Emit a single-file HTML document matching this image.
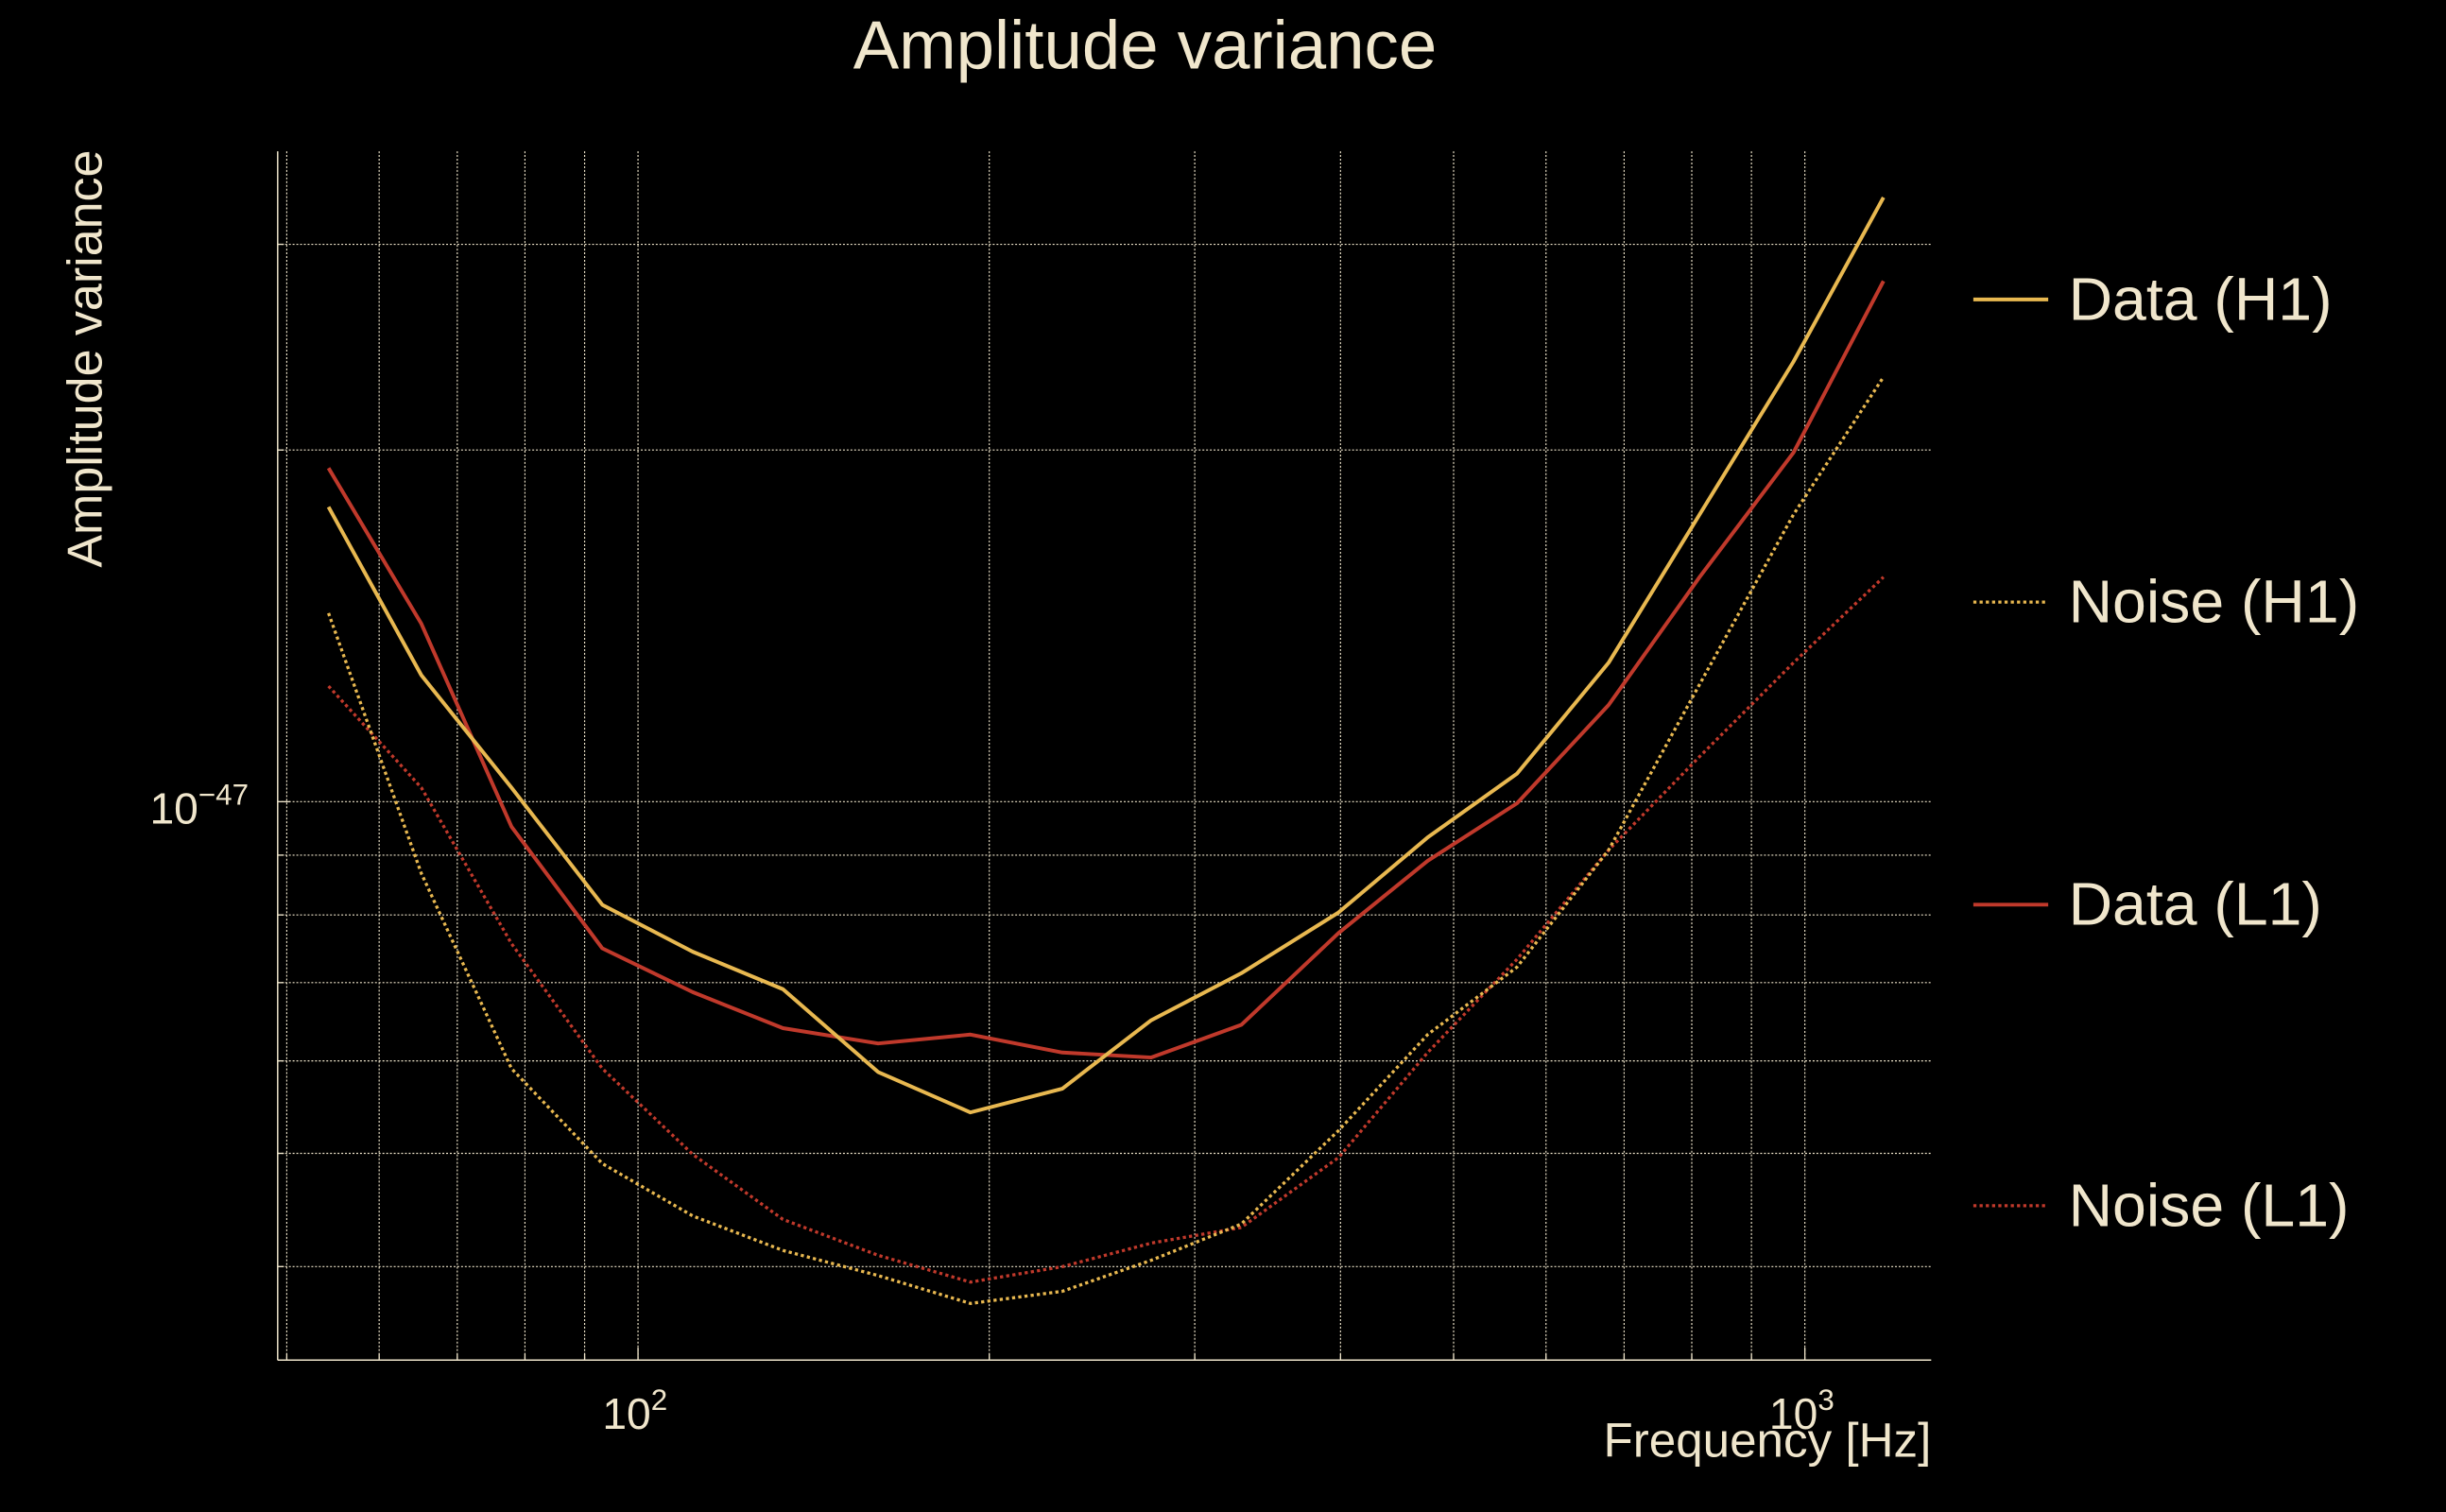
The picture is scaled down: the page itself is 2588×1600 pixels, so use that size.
<!DOCTYPE html>
<html><head><meta charset="utf-8"><style>
html,body{margin:0;padding:0;background:#000;}
svg{display:block;}
text{font-family:"Liberation Sans",sans-serif;fill:#f0e6cc;}
</style></head><body>
<svg id="chart" width="2588" height="1600" viewBox="0 0 1568 969.4" preserveAspectRatio="none" xmlns="http://www.w3.org/2000/svg">
<rect width="1568" height="970" fill="#000"/>
<g id="grid"></g>
<g id="axes"></g>
<g id="series"></g>
<text x="734" y="44" font-size="44" text-anchor="middle">Amplitude variance</text>
<text transform="translate(65,230) rotate(-90)" font-size="31.5" text-anchor="middle">Amplitude variance</text>
<text x="1238" y="934" font-size="31" text-anchor="end">Frequency [Hz]</text>
<g>
<line x1="1265" y1="192" x2="1313" y2="192" stroke="#e8b850" stroke-width="2.4"/>
<text x="1326" y="205" font-size="39">Data (H1)</text>
<line x1="1265" y1="386" x2="1313" y2="386" stroke="#e8b850" stroke-width="2" stroke-dasharray="2,2"/>
<text x="1326" y="399" font-size="39">Noise (H1)</text>
<line x1="1265" y1="580" x2="1313" y2="580" stroke="#c0392b" stroke-width="2.4"/>
<text x="1326" y="593" font-size="39">Data (L1)</text>
<line x1="1265" y1="773" x2="1313" y2="773" stroke="#c0392b" stroke-width="2" stroke-dasharray="2,2"/>
<text x="1326" y="786" font-size="39">Noise (L1)</text>
</g>
</svg>
<script>
const freqs = [54.3,65.2,77.9,93.2,111.4,133.1,160.6,192.7,231.0,275.3,328.8,398.5,475.1,566.7,679.0,812.3,977.7,1168];
// values in units of 1e-48
const dataH1 = [17.88,12.83,10.28,8.16,7.44,6.91,5.87,5.42,5.68,6.50,7.13,8.04,9.32,10.57,13.15,17.61,23.8,32.9];
const dataL1 = [19.3,14.2,9.52,7.49,6.87,6.40,6.21,6.32,6.10,6.04,6.44,7.72,8.90,9.97,12.10,15.57,19.9,27.9];
const noiseH1 = [14.5,8.68,5.91,4.90,4.42,4.13,3.93,3.72,3.81,4.05,4.35,5.23,6.32,7.22,9.09,12.6,17.61,23.1];
const noiseL1 = [12.56,10.28,7.56,5.91,4.99,4.39,4.09,3.88,4.00,4.19,4.32,4.96,6.10,7.33,9.09,10.93,13.15,15.57];
const xGridVals = [50,60,70,80,90,100,200,300,400,500,600,700,800,900,1000];
const yGridVals = [4,5,6,7,8,9,10,20,30];

const NS="http://www.w3.org/2000/svg";
const X0=178,X1=1238,Y0=97,Y1=872;
function xs(f){return 409+748*Math.log10(f/100);}
function ys(v){return 514-749*Math.log10(v/10);}
function mk(tag,attrs,parent){const e=document.createElementNS(NS,tag);for(const k in attrs)e.setAttribute(k,attrs[k]);parent.appendChild(e);return e;}
const grid=document.getElementById('grid'),axes=document.getElementById('axes'),series=document.getElementById('series');
xGridVals.forEach(f=>{const x=xs(f);
  const l=mk('line',{x1:x,x2:x,y1:Y0,y2:Y1,stroke:'#f0e6cc','stroke-width':0.7,'stroke-dasharray':'1.2,1.2'},grid);
  
  
  const t=mk('line',{x1:x,x2:x,y1:Y1,y2:Y1-(f==100||f==1000?8:4),stroke:'#f0e6cc','stroke-width':0.8},axes);
  
  
});
yGridVals.forEach(v=>{const y=ys(v);
  const l=mk('line',{x1:X0,x2:X1,y1:y,y2:y,stroke:'#f0e6cc','stroke-width':0.7,'stroke-dasharray':'1.2,1.2'},grid);
  
  
  const t=mk('line',{x1:X0,x2:X0+(v==10?8:4),y1:y,y2:y,stroke:'#f0e6cc','stroke-width':0.8},axes);
  
  
});
let a=mk('line',{x1:X0,x2:X0,y1:Y0,y2:Y1,stroke:'#f0e6cc','stroke-width':0.9},axes);


a=mk('line',{x1:X0,x2:X1,y1:Y1,y2:Y1,stroke:'#f0e6cc','stroke-width':0.9},axes);


function expLabel(x,y,base,exp,anchor,name){const t=mk('text',{x:x,y:y,'font-size':28,'text-anchor':anchor},axes);
  
  
  t.innerHTML=base+'<tspan dy="-12" font-size="19">'+exp+'</tspan>';}
expLabel(xs(100)-2,916,'10','2','middle','x-tick-label-100');
expLabel(xs(1000)-2,916,'10','3','middle','x-tick-label-1000');
expLabel(96,528,'10','\u221247','start','y-tick-label-1e-47');
function drawSeries(vals,color,dashed,name){
  const pts=freqs.map((f,i)=>xs(f).toFixed(1)+','+ys(vals[i]).toFixed(1)).join(' ');
  const p=mk('polyline',{points:pts,fill:'none',stroke:color,'stroke-width':dashed?2:2.4,'stroke-linejoin':'round'},series);
  if(dashed)p.setAttribute('stroke-dasharray','2,2');
  
  
}
drawSeries(noiseL1,'#c0392b',true,'noise-l1-line');
drawSeries(noiseH1,'#e8b850',true,'noise-h1-line');
drawSeries(dataL1,'#c0392b',false,'data-l1-line');
drawSeries(dataH1,'#e8b850',false,'data-h1-line');
</script>
</body></html>
